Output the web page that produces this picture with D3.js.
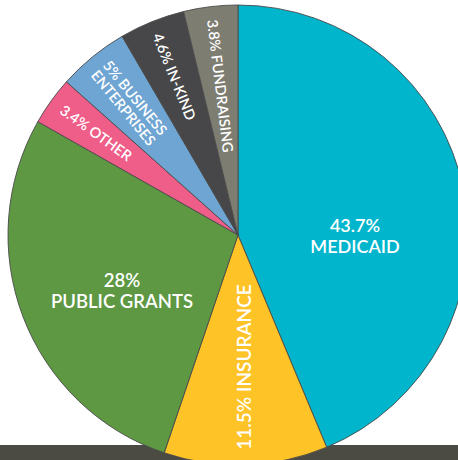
<!DOCTYPE html>
<html>
<head>
<meta charset="utf-8">
<script src="https://cdn.jsdelivr.net/npm/d3@7"></script>
<style>
  html, body { margin: 0; padding: 0; background: #fff; overflow: hidden; }
  svg text { font-family: Lato, "Open Sans", sans-serif; fill: #fff; }
</style>
</head>
<body>
<svg id="chart" width="458" height="460"></svg>
<script>
const categories = ["MEDICAID", "INSURANCE", "PUBLIC GRANTS", "OTHER", "BUSINESS ENTERPRISES", "IN-KIND", "FUNDRAISING"];
const values = [43.7, 11.5, 28, 3.4, 5, 4.6, 3.8];
const valueLabels = ["43.7%", "11.5%", "28%", "3.4%", "5%", "4.6%", "3.8%"];
const colors = ["#00b5cc", "#fec327", "#5e9843", "#ef5d89", "#6fa5d3", "#474749", "#7e7d72"];

const W = 458, H = 460;
const cx = 238, cy = 235, R = 230;
const svg = d3.select("#chart");

// bottom band
svg.append("rect").attr("x", 0).attr("y", 445).attr("width", W).attr("height", H - 445).attr("fill", "#4b4b44");

const data = categories.map((c, i) => ({ cat: c, value: values[i], label: valueLabels[i], color: colors[i] }));
const pie = d3.pie().value(d => d.value).sort(null);
const arcs = pie(data);
const arc = d3.arc().innerRadius(0).outerRadius(R);

const g = svg.append("g").attr("transform", `translate(${cx},${cy})`);
g.selectAll("path").data(arcs).enter().append("path")
  .attr("d", arc)
  .attr("fill", d => d.data.color)
  .attr("stroke", "#4a4a4a")
  .attr("stroke-width", 0.9);

const mid = d => (d.startAngle + d.endAngle) / 2;

// Large horizontal labels
function twoLine(d, x, y, fs) {
  const t = g.append("text").attr("text-anchor", "middle").attr("font-size", fs).attr("font-weight", 600);
  t.append("tspan").attr("x", x).attr("y", y).text(d.data.label);
  t.append("tspan").attr("x", x).attr("y", y + 21).text(d.data.cat);
}
twoLine(arcs[0], 355 - cx, 232 - cy, 18);
twoLine(arcs[2], 122 - cx, 287 - cy, 18.5);
// Insurance vertical label
{
  const d = arcs[1];
  const p = [244 - cx, 367 - cy];
  g.append("text")
    .attr("transform", `translate(${p[0]},${p[1]}) rotate(-90)`)
    .attr("text-anchor", "middle").attr("dy", "0.35em")
    .attr("font-size", 19).attr("font-weight", 600)
    .text(d.data.label + " " + d.data.cat);
}
// Small radial labels
const rStart = 217;
[3, 4, 5, 6].forEach(i => {
  const d = arcs[i];
  const a = mid(d);
  const deg = a * 180 / Math.PI + 90;
  const x = Math.sin(a) * rStart, y = -Math.cos(a) * rStart;
  const t = g.append("text")
    .attr("transform", `translate(${x},${y}) rotate(${deg})`)
    .attr("text-anchor", "start")
    .attr("font-size", 14.5).attr("font-weight", 600);
  if (i === 4) {
    t.append("tspan").attr("x", 0).attr("y", -2).text(d.data.label + " BUSINESS");
    t.append("tspan").attr("x", 0).attr("y", 13.5).text("ENTERPRISES");
  } else {
    t.attr("dy", "0.35em").text(d.data.label + " " + d.data.cat);
  }
});
</script>
</body>
</html>
